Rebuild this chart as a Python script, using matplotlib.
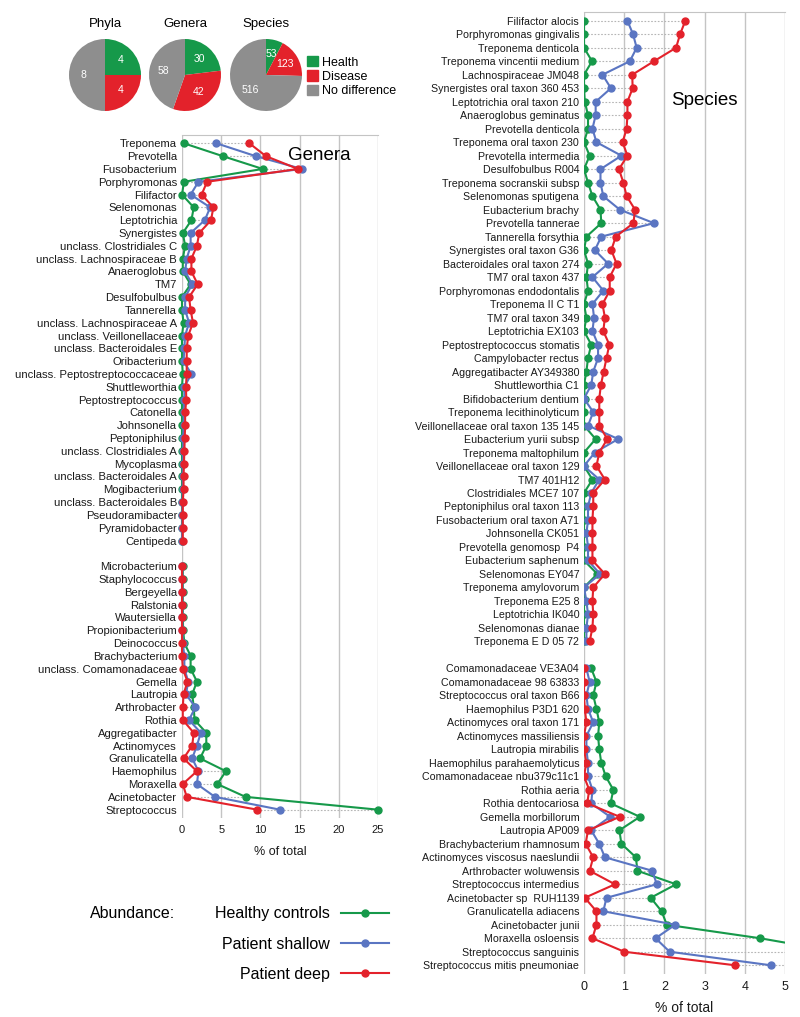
import matplotlib
matplotlib.use("Agg")
import matplotlib.pyplot as plt
from matplotlib.patches import Patch
import numpy as np

plt.rcParams['font.family'] = ['Liberation Sans', 'DejaVu Sans']

# colours
GREEN = '#16994a'
BLUE = '#5a75c2'
RED = '#e3222b'
GRAY = '#8e8e8e'

# pie data: health, disease, no difference
pie_titles = ['Phyla', 'Genera', 'Species']
pie_counts = [[4, 4, 8], [30, 42, 58], [53, 123, 516]]
pie_cats = ['Health', 'Disease', 'No difference']

# genera, disease associated
genera_dis = ['Treponema', 'Prevotella', 'Fusobacterium', 'Porphyromonas', 'Filifactor',
              'Selenomonas', 'Leptotrichia', 'Synergistes', 'unclass. Clostridiales C',
              'unclass. Lachnospiraceae B', 'Anaeroglobus', 'TM7', 'Desulfobulbus', 'Tannerella',
              'unclass. Lachnospiraceae A', 'unclass. Veillonellaceae', 'unclass. Bacteroidales E',
              'Oribacterium', 'unclass. Peptostreptococcaceae', 'Shuttleworthia',
              'Peptostreptococcus', 'Catonella', 'Johnsonella', 'Peptoniphilus',
              'unclass. Clostridiales A', 'Mycoplasma', 'unclass. Bacteroidales A', 'Mogibacterium',
              'unclass. Bacteroidales B', 'Pseudoramibacter', 'Pyramidobacter', 'Centipeda']
gd_healthy = [0.25, 5.2, 10.3, 0.25, 0.0, 1.5, 1.2, 0.1, 0.4, 0.1, 0.1, 1.1, 0.0, 0.0, 0.2, 0.0,
              0.0, 0.0, 0.1, 0.0, 0.0, 0.0, 0.0, 0.0, 0.0, 0.0, 0.0, 0.0, 0.0, 0.0, 0.0, 0.0]
gd_shallow = [4.4, 9.4, 15.3, 2.1, 1.1, 3.6, 2.9, 1.1, 1.1, 0.6, 0.4, 1.3, 0.4, 0.4, 0.9, 0.4,
              0.3, 0.2, 1.2, 0.3, 0.3, 0.2, 0.2, 0.15, 0.15, 0.1, 0.1, 0.1, 0.05, 0.05, 0.05, 0.0]
gd_deep = [8.6, 10.7, 14.8, 3.2, 2.5, 4.0, 3.7, 2.2, 1.9, 1.2, 1.2, 2.0, 0.9, 1.1, 1.4, 0.8,
           0.6, 0.6, 0.6, 0.5, 0.55, 0.4, 0.4, 0.35, 0.3, 0.25, 0.2, 0.2, 0.1, 0.1, 0.1, 0.1]

# genera, health associated
genera_hea = ['Microbacterium', 'Staphylococcus', 'Bergeyella', 'Ralstonia', 'Wautersiella',
              'Propionibacterium', 'Deinococcus', 'Brachybacterium', 'unclass. Comamonadaceae',
              'Gemella', 'Lautropia', 'Arthrobacter', 'Rothia', 'Aggregatibacter', 'Actinomyces',
              'Granulicatella', 'Haemophilus', 'Moraxella', 'Acinetobacter', 'Streptococcus']
gh_healthy = [0.1, 0.1, 0.1, 0.1, 0.1, 0.15, 0.3, 1.1, 1.1, 1.9, 1.3, 1.5, 1.6, 3.1, 3.1, 2.3,
              5.6, 4.5, 8.1, 25.0]
gh_shallow = [0.05, 0.05, 0.05, 0.05, 0.05, 0.05, 0.1, 0.3, 0.3, 0.8, 0.5, 1.7, 0.9, 2.4, 1.9,
              1.3, 2.1, 1.9, 4.2, 12.5]
gh_deep = [0.0, 0.0, 0.0, 0.0, 0.0, 0.0, 0.0, 0.0, 0.1, 0.7, 0.2, 0.1, 0.1, 1.5, 1.3, 0.2, 1.9,
           0.1, 0.6, 9.6]

# species, disease associated
species_dis = ['Filifactor alocis', 'Porphyromonas gingivalis', 'Treponema denticola',
               'Treponema vincentii medium', 'Lachnospiraceae JM048', 'Synergistes oral taxon 360 453',
               'Leptotrichia oral taxon 210', 'Anaeroglobus geminatus', 'Prevotella denticola',
               'Treponema oral taxon 230', 'Prevotella intermedia', 'Desulfobulbus R004',
               'Treponema socranskii subsp', 'Selenomonas sputigena', 'Eubacterium brachy',
               'Prevotella tannerae', 'Tannerella forsythia', 'Synergistes oral taxon G36',
               'Bacteroidales oral taxon 274', 'TM7 oral taxon 437', 'Porphyromonas endodontalis',
               'Treponema II C T1', 'TM7 oral taxon 349', 'Leptotrichia EX103',
               'Peptostreptococcus stomatis', 'Campylobacter rectus', 'Aggregatibacter AY349380',
               'Shuttleworthia C1', 'Bifidobacterium dentium', 'Treponema lecithinolyticum',
               'Veillonellaceae oral taxon 135 145', 'Eubacterium yurii subsp', 'Treponema maltophilum',
               'Veillonellaceae oral taxon 129', 'TM7 401H12', 'Clostridiales MCE7 107',
               'Peptoniphilus oral taxon 113', 'Fusobacterium oral taxon A71', 'Johnsonella CK051',
               'Prevotella genomosp  P4', 'Eubacterium saphenum', 'Selenomonas EY047',
               'Treponema amylovorum', 'Treponema E25 8', 'Leptotrichia IK040', 'Selenomonas dianae',
               'Treponema E D 05 72']
sd_healthy = [0.0, 0.0, 0.0, 0.2, 0.0, 0.0, 0.02, 0.1, 0.1, 0.0, 0.14, 0.0, 0.1, 0.21, 0.41, 0.43,
              0.06, 0.0, 0.1, 0.06, 0.1, 0.0, 0.06, 0.0, 0.18, 0.1, 0.06, 0.0, 0.02, 0.0, 0.0, 0.29,
              0.0, 0.0, 0.21, 0.0, 0.0, 0.0, 0.0, 0.0, 0.0, 0.33, 0.0, 0.0, 0.0, 0.0, 0.0]
sd_shallow = [1.08, 1.22, 1.31, 1.14, 0.46, 0.67, 0.29, 0.29, 0.21, 0.31, 0.93, 0.41, 0.41, 0.48,
              0.89, 1.74, 0.43, 0.27, 0.6, 0.21, 0.48, 0.21, 0.25, 0.21, 0.35, 0.35, 0.23, 0.18,
              0.0, 0.23, 0.1, 0.85, 0.27, 0.0, 0.38, 0.18, 0.1, 0.1, 0.06, 0.1, 0.1, 0.4, 0.0,
              0.06, 0.1, 0.06, 0.06]
sd_deep = [2.52, 2.39, 2.29, 1.74, 1.2, 1.21, 1.08, 1.08, 1.06, 0.96, 1.08, 0.87, 0.98, 1.06, 1.27,
           1.23, 0.79, 0.68, 0.81, 0.64, 0.64, 0.46, 0.52, 0.48, 0.63, 0.56, 0.49, 0.42, 0.38,
           0.38, 0.38, 0.58, 0.38, 0.31, 0.52, 0.23, 0.23, 0.21, 0.21, 0.21, 0.21, 0.52, 0.23,
           0.21, 0.23, 0.21, 0.14]

# species, health associated
species_hea = ['Comamonadaceae VE3A04', 'Comamonadaceae 98 63833', 'Streptococcus oral taxon B66',
               'Haemophilus P3D1 620', 'Actinomyces oral taxon 171', 'Actinomyces massiliensis',
               'Lautropia mirabilis', 'Haemophilus parahaemolyticus', 'Comamonadaceae nbu379c11c1',
               'Rothia aeria', 'Rothia dentocariosa', 'Gemella morbillorum', 'Lautropia AP009',
               'Brachybacterium rhamnosum', 'Actinomyces viscosus naeslundii',
               'Arthrobacter woluwensis', 'Streptococcus intermedius', 'Acinetobacter sp  RUH1139',
               'Granulicatella adiacens', 'Acinetobacter junii', 'Moraxella osloensis',
               'Streptococcus sanguinis', 'Streptococcus mitis pneumoniae']
sh_healthy = [0.18, 0.31, 0.23, 0.31, 0.38, 0.35, 0.38, 0.43, 0.54, 0.73, 0.66, 1.39, 0.88, 0.93,
              1.29, 1.33, 2.29, 1.66, 1.93, 2.06, 4.38, 6.3, 10.0]
sh_shallow = [0.06, 0.14, 0.06, 0.1, 0.23, 0.06, 0.06, 0.1, 0.1, 0.21, 0.18, 0.65, 0.18, 0.38,
              0.52, 1.7, 1.81, 0.56, 0.48, 2.27, 1.78, 2.13, 4.64]
sh_deep = [0.0, 0.0, 0.0, 0.02, 0.06, 0.0, 0.0, 0.06, 0.0, 0.13, 0.08, 0.89, 0.1, 0.04, 0.23,
           0.14, 0.77, 0.02, 0.31, 0.31, 0.21, 1.0, 3.75]

groups = ['Healthy controls', 'Patient shallow', 'Patient deep']
colors = [GREEN, BLUE, RED]

W, H = 800, 1017
fig = plt.figure(figsize=(W / 100, H / 100), dpi=100)


def px_axes(x0, y0, x1, y1):
    return fig.add_axes([x0 / W, 1 - y1 / H, (x1 - x0) / W, (y1 - y0) / H])


def profile(ax, names1, vals1, names2, vals2, xmax, step, lab_fs, tick_fs, clip):
    n1, n2 = len(names1), len(names2)
    pos1 = np.arange(n1)
    pos2 = np.arange(n2) + n1 + 1
    handles = []
    for pos, vals in [(pos1, vals1), (pos2, vals2)]:
        arr = np.array(vals)
        ax.hlines(pos, arr.min(axis=0), arr.max(axis=0), colors='#b5b5b5',
                  linestyles=(0, (1.5, 1.5)), linewidth=0.8, zorder=1)
        handles = []
        for v, c in zip(vals, colors):
            ln, = ax.plot(v, pos, '-o', color=c, lw=1.5, ms=5.0, mec=c, zorder=3,
                          clip_on=clip)
            handles.append(ln)
    ax.set_yticks(np.concatenate([pos1, pos2]), names1 + names2, fontsize=lab_fs, color='#1a1a1a')
    ax.set_ylim(n1 + n2 + 0.65, -0.65)
    ax.set_xlim(0, xmax)
    ax.set_xticks(np.arange(0, xmax + step / 2, step))
    ax.tick_params(axis='y', length=0, pad=3.5)
    ax.tick_params(axis='x', length=0, pad=5, labelsize=tick_fs, colors='#1a1a1a')
    ax.xaxis.grid(True, color='#c4c4c4', lw=1.0)
    ax.set_axisbelow(True)
    for s in ['left', 'right', 'bottom']:
        ax.spines[s].set_visible(False)
    ax.spines['top'].set_color('#c4c4c4')
    return handles


# genera profile
axg = px_axes(182, 135, 378, 818)
hg = profile(axg, genera_dis, [gd_healthy, gd_shallow, gd_deep],
             genera_hea, [gh_healthy, gh_shallow, gh_deep], 25, 5, 8.1, 8, False)
axg.set_xlabel('% of total', fontsize=9, labelpad=8, color='#1a1a1a')
axg.text(0.70, 0.970, 'Genera', transform=axg.transAxes, fontsize=13.5,
         ha='center', va='center')

# species profile
axs = px_axes(584, 12, 785, 974)
profile(axs, species_dis, [sd_healthy, sd_shallow, sd_deep],
        species_hea, [sh_healthy, sh_shallow, sh_deep], 5, 1, 7.7, 9, True)
axs.set_xlabel('% of total', fontsize=10, labelpad=6, color='#1a1a1a')
axs.text(0.60, 0.908, 'Species', transform=axs.transAxes, fontsize=13.5,
         ha='center', va='center')

# pies
centers = [105, 185, 266]
for cx, title, counts in zip(centers, pie_titles, pie_counts):
    ax = px_axes(cx - 45, 75 - 45, cx + 45, 75 + 45)
    wedges, texts = ax.pie(counts, colors=[GREEN, RED, GRAY], startangle=90,
                           counterclock=False, labels=[str(c) for c in counts],
                           labeldistance=0.6,
                           textprops=dict(color='white', fontsize=7.5, ha='center', va='center'))
    ax.set_title(title, fontsize=9.5, pad=-2)

fig.legend([Patch(color=c) for c in [GREEN, RED, GRAY]], pie_cats, loc='upper left',
           bbox_to_anchor=(302 / W, 1 - 51 / H), frameon=False, fontsize=9,
           handlelength=0.9, handleheight=0.9, labelspacing=0.15, handletextpad=0.3,
           borderaxespad=0)

# abundance legend
fig.text(90 / W, 1 - 913 / H, 'Abundance:', fontsize=11.5, va='center', ha='left')
fig.legend(hg, groups, loc='upper right', bbox_to_anchor=(395 / W, 1 - 900 / H),
           frameon=False, fontsize=11.5, markerfirst=False, handlelength=3.0,
           handletextpad=0.7, labelspacing=0.95, numpoints=1, borderaxespad=0)

fig.savefig('out.png', dpi=100)
